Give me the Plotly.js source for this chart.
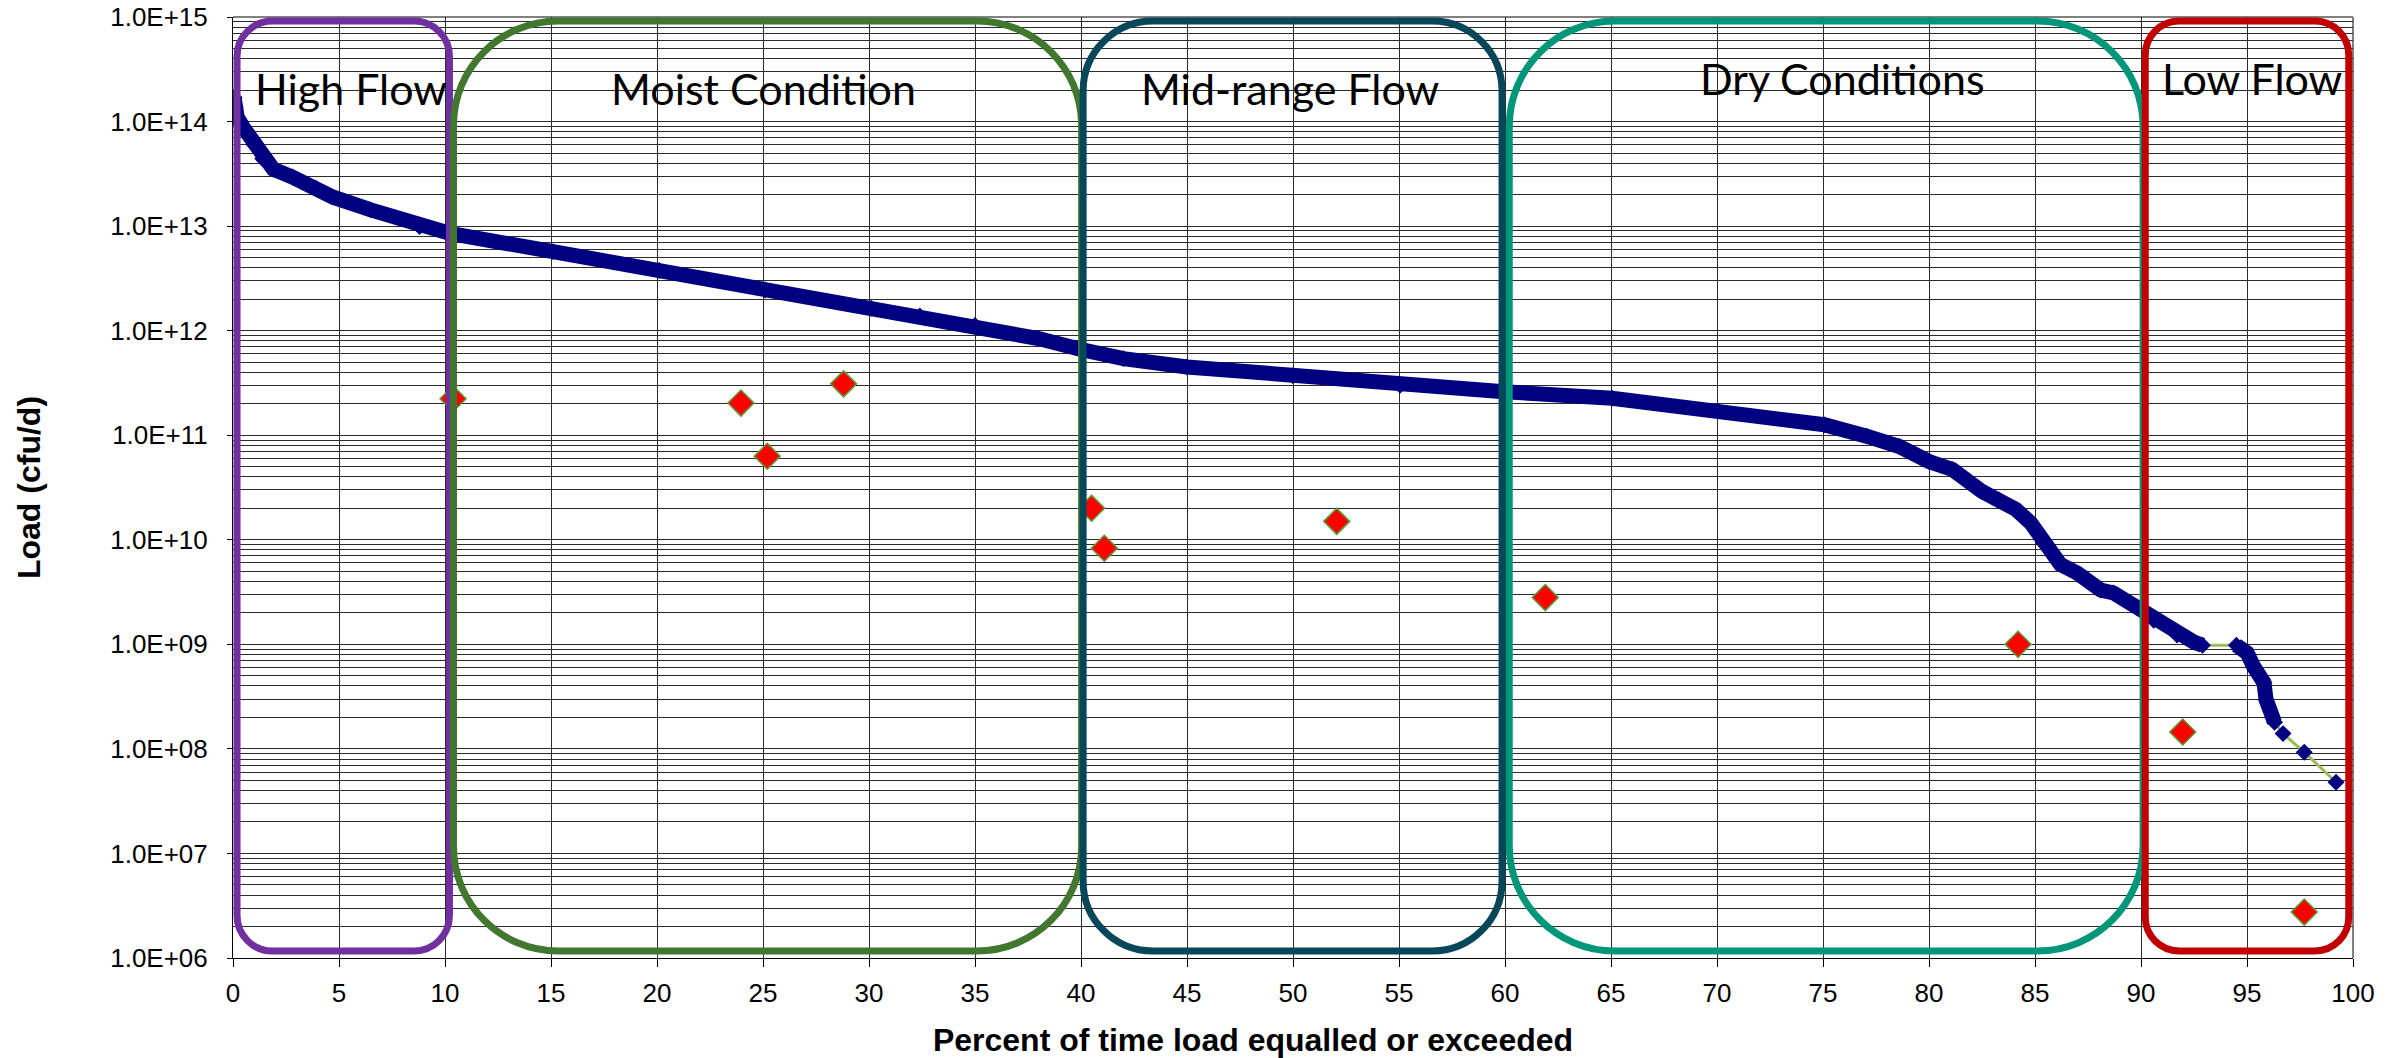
<!DOCTYPE html>
<html>
<head>
<meta charset="utf-8">
<script src="https://cdn.plot.ly/plotly-3.0.1.min.js"></script>
<style>
  html, body { margin: 0; padding: 0; background: #ffffff; }
  #chart { width: 2405px; height: 1058px; }
</style>
</head>
<body>
<div id="chart"></div>
<script>
// ---- Data ----
// Flow (load) duration curve
const flowPct = [0.05, 0.1, 0.2, 0.5, 1.0, 1.4, 1.9, 2.8, 3.9, 4.7, 6.5, 8.8, 10.24, 15.1, 20.1, 25.1, 30.1, 32.4, 35, 38, 40, 42, 45, 50, 55.05, 59.8, 65.05, 70.05, 75.06, 77.06, 78.6, 80.0, 81.1, 82.5, 83.3, 84.1, 84.8, 85.4, 86.2, 87.0, 88.1, 88.7, 89.6, 90.6, 91.7, 92.5, 92.9, 94.5, 95.0, 95.3, 95.8, 95.9, 96.2, 96.3, 96.7, 97.7, 99.2];
const flowLoad = [1.7e14, 1.4e14, 1.1e14, 8.7e13, 6.0e13, 4.4e13, 3.5e13, 2.95e13, 2.3e13, 1.9e13, 1.43e13, 9.9e12, 8.5e12, 5.7e12, 3.76e12, 2.45e12, 1.64e12, 1.38e12, 1.12e12, 8.4e11, 6.6e11, 5.4e11, 4.5e11, 3.7e11, 3.0e11, 2.62e11, 2.26e11, 1.7e11, 1.26e11, 9.8e10, 7.8e10, 5.6e10, 4.7e10, 2.9e10, 2.4e10, 1.95e10, 1.45e10, 9.3e9, 5.8e9, 4.8e9, 3.3e9, 3.1e9, 2.4e9, 1.7e9, 1.23e9, 1.05e9, 9.8e8, 9.8e8, 8.3e8, 6.2e8, 4.3e8, 2.95e8, 2.0e8, 1.8e8, 1.4e8, 9.3e7, 4.8e7];

// Observed loads
const obsPct  = [10.38, 23.96, 25.2, 28.8, 40.5, 41.1, 52.06, 61.9, 84.2, 91.97, 97.7];
const obsLoad = [2.23e11, 2.03e11, 6.3e10, 3.1e11, 2.0e10, 8.3e9, 1.5e10, 2.8e9, 1.0e9, 1.45e8, 2.75e6];

// Flow regimes
const regimeNames = ['High Flow', 'Moist Condition', 'Mid-range Flow', 'Dry Conditions', 'Low Flow'];
const regimeStart = [0.19, 10.4, 40.1, 60.2, 90.2];
const regimeEnd   = [10.21, 40.03, 59.86, 90.1, 99.8];

// Axis ticks
const yTickVals = [1e6, 1e7, 1e8, 1e9, 1e10, 1e11, 1e12, 1e13, 1e14, 1e15];
const yTickText = ['1.0E+06', '1.0E+07', '1.0E+08', '1.0E+09', '1.0E+10', '1.0E+11', '1.0E+12', '1.0E+13', '1.0E+14', '1.0E+15'];

// ---- Styling / layout ----
const W = 2405, H = 1058;
const M = { l: 233, r: 52, t: 17, b: 100 };
const plotW = W - M.l - M.r;
const plotH = H - M.t - M.b;

const regimeColors = ['#7030A0', '#41772F', '#08475A', '#00967A', '#C00000'];
const labelX = [5.57, 25.0, 49.86, 75.9, 95.26];
const labelPy = [89, 89, 89, 80, 80]; // pixel centre of text

// dense band of the curve (same data, with a break where the series is sparse)
const bandX = [], bandY = [];
for (let i = 0; i < flowPct.length; i++) {
  if (flowPct[i] > 96.3) break;
  if (i > 0 && flowPct[i] - flowPct[i - 1] > 1.2 && flowPct[i] > 90) { bandX.push(null); bandY.push(null); }
  bandX.push(flowPct[i]); bandY.push(flowLoad[i]);
}

const traces = [
  { x: flowPct, y: flowLoad, type: 'scatter', mode: 'lines+markers',
    line: { color: '#9BBB59', width: 3 },
    marker: { symbol: 'diamond', size: 13, color: '#000080' },
    hoverinfo: 'x+y', showlegend: false },
  { x: bandX, y: bandY, type: 'scatter', mode: 'lines',
    line: { color: '#000080', width: 15 }, connectgaps: false,
    hoverinfo: 'skip', showlegend: false },
  { x: obsPct, y: obsLoad, type: 'scatter', mode: 'markers',
    marker: { symbol: 'diamond', size: 20, color: '#FF0000', line: { color: '#5B9B3A', width: 1.5 } },
    showlegend: false }
];

function roundedPath(x0, x1, B, T) {
  const rpx = (x1 - x0) * plotW / 100 / 6;
  const rx = rpx / (plotW / 100), ry = rpx / plotH, k = 0.5523;
  const p = (x, y) => x.toFixed(4) + ',' + y.toFixed(5);
  return 'M' + p(x0 + rx, T) +
    ' L' + p(x1 - rx, T) +
    ' C' + p(x1 - rx + k * rx, T) + ' ' + p(x1, T - ry + k * ry) + ' ' + p(x1, T - ry) +
    ' L' + p(x1, B + ry) +
    ' C' + p(x1, B + ry - k * ry) + ' ' + p(x1 - rx + k * rx, B) + ' ' + p(x1 - rx, B) +
    ' L' + p(x0 + rx, B) +
    ' C' + p(x0 + rx - k * rx, B) + ' ' + p(x0, B + ry - k * ry) + ' ' + p(x0, B + ry) +
    ' L' + p(x0, T - ry) +
    ' C' + p(x0, T - ry + k * ry) + ' ' + p(x0 + rx - k * rx, T) + ' ' + p(x0 + rx, T) + ' Z';
}

const boxTop = (H - M.b - 21) / plotH;   // paper
const boxBot = (H - M.b - 951) / plotH;

const shapes = [
  { type: 'line', xref: 'paper', yref: 'paper', x0: 0, x1: 1, y0: 1, y1: 1, line: { color: '#808080', width: 2 }, layer: 'below' },
  { type: 'line', xref: 'paper', yref: 'paper', x0: 1, x1: 1, y0: 0, y1: 1, line: { color: '#808080', width: 2 }, layer: 'below' }
];
regimeNames.forEach((n, i) => {
  shapes.push({ type: 'path', xref: 'x', yref: 'paper',
    path: roundedPath(regimeStart[i], regimeEnd[i], boxBot, boxTop),
    line: { color: regimeColors[i], width: 7 }, fillcolor: 'rgba(0,0,0,0)' });
});

const annotations = regimeNames.map((n, i) => ({
  text: n, xref: 'x', yref: 'paper', x: labelX[i], y: (H - M.b - labelPy[i] + 1) / plotH,
  xanchor: 'center', yanchor: 'middle', showarrow: false,
  font: { family: 'Lato, "Noto Sans", sans-serif', size: 43, color: '#000000' }
}));

const axisFont = { family: '"Liberation Sans", Arial, sans-serif', size: 26, color: '#000000' };
const titleFont = { family: '"Liberation Sans", Arial, sans-serif', size: 32, color: '#000000', weight: 'bold' };

const layout = {
  width: W, height: H,
  margin: M,
  paper_bgcolor: '#ffffff', plot_bgcolor: '#ffffff',
  showlegend: false,
  xaxis: {
    range: [0, 100], dtick: 5, tick0: 0,
    ticks: 'outside', ticklen: 8, tickcolor: '#000', tickwidth: 1,
    showline: true, linecolor: '#000', linewidth: 1,
    showgrid: true, gridcolor: '#2b2b2b', gridwidth: 1, zeroline: false,
    tickfont: axisFont, ticklabelstandoff: 4,
    title: { text: 'Percent of time load equalled or exceeded' + '&nbsp;'.repeat(9), font: titleFont, standoff: 21 }
  },
  yaxis: {
    type: 'log', range: [6, 15],
    tickmode: 'array', tickvals: yTickVals, ticktext: yTickText,
    ticks: 'outside', ticklen: 5, tickcolor: '#000', tickwidth: 1,
    showline: true, linecolor: '#000', linewidth: 1,
    showgrid: true, gridcolor: '#2b2b2b', gridwidth: 1, zeroline: false,
    minor: { dtick: 'D1', showgrid: true, gridcolor: '#2b2b2b', gridwidth: 1, ticks: '' },
    tickfont: axisFont, ticklabelstandoff: 14,
    title: { text: 'Load (cfu/d)', font: titleFont, standoff: 60 }
  },
  shapes: shapes,
  annotations: annotations
};

Plotly.newPlot('chart', traces, layout, { displayModeBar: false, staticPlot: true });
</script>
</body>
</html>
